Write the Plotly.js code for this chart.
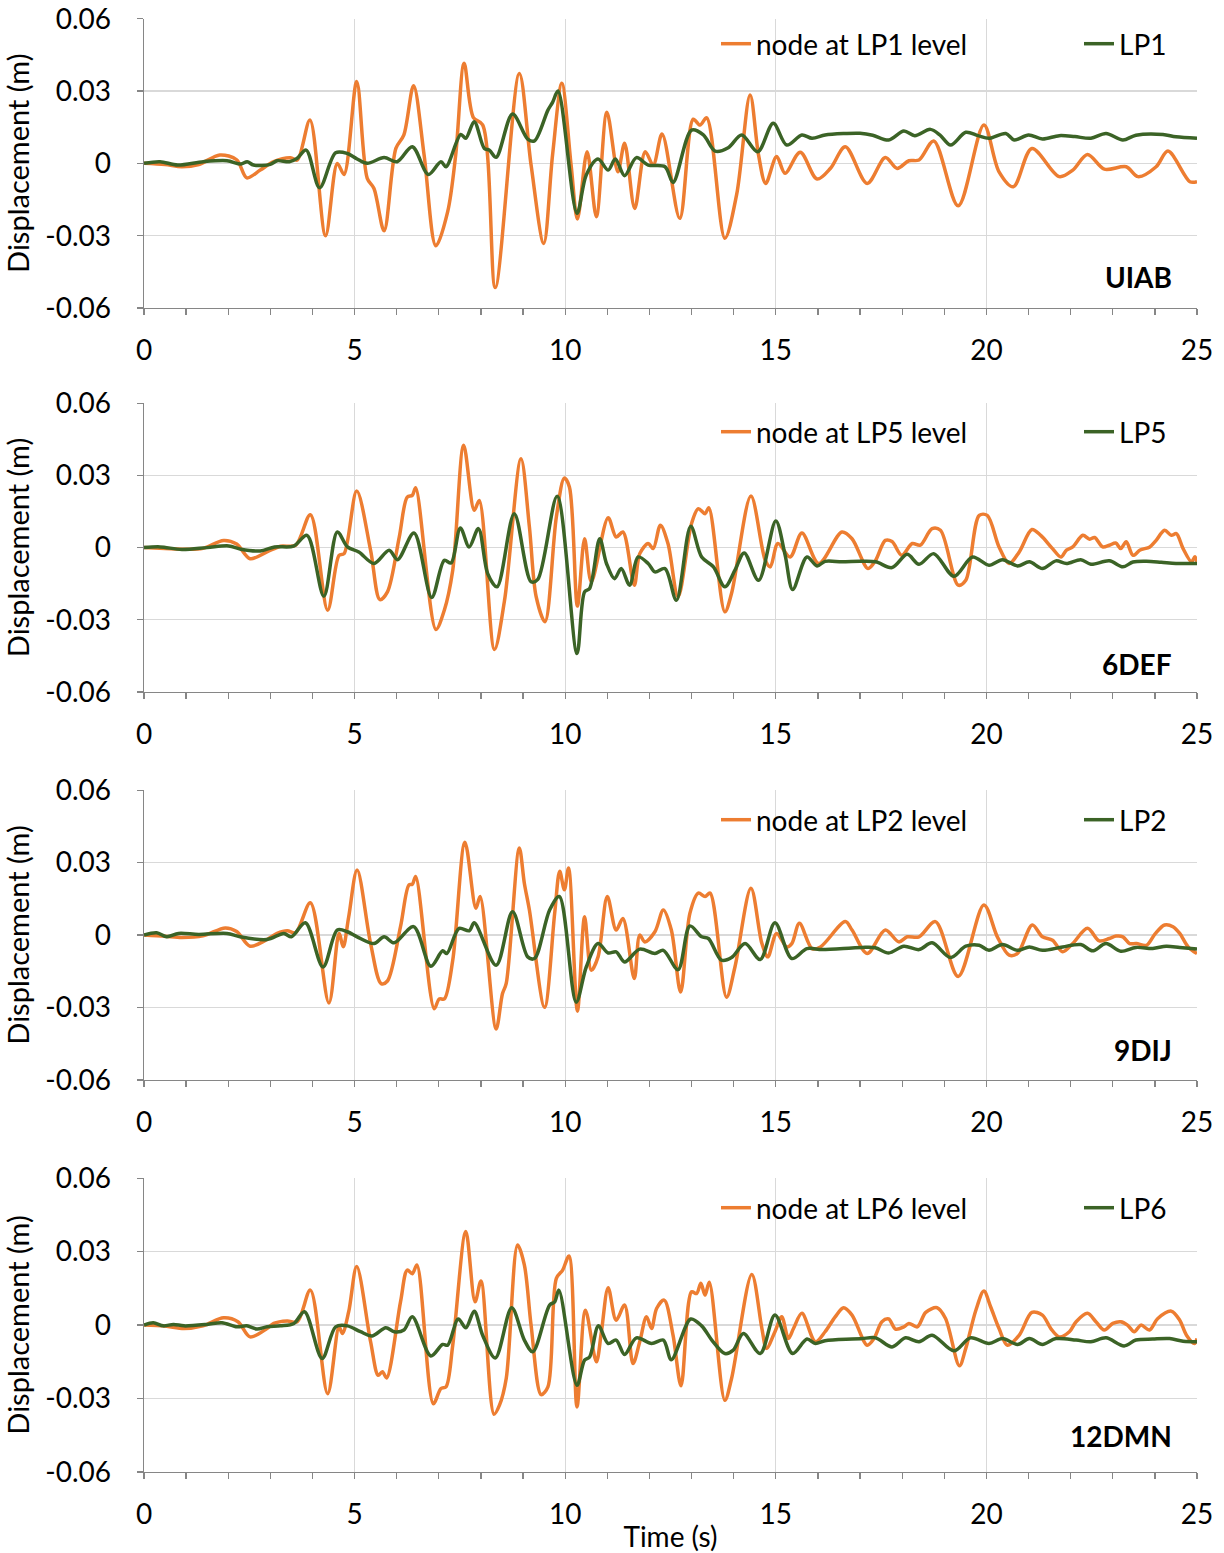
<!DOCTYPE html>
<html>
<head>
<meta charset="utf-8">
<script src="https://cdn.plot.ly/plotly-3.0.1.min.js"></script>
<style>
  html, body { margin: 0; padding: 0; background: #ffffff; }
  #chart { width: 1224px; height: 1553px; }
</style>
</head>
<body>
<div id="chart"></div>
<script>
// ---------------- Data (time in s, displacement in m) ----------------
const panelNames = ["UIAB", "6DEF", "9DIJ", "12DMN"];
const nodeNames = ["node at LP1 level", "node at LP5 level", "node at LP2 level", "node at LP6 level"];
const lpNames = ["LP1", "LP5", "LP2", "LP6"];
const yTickVals = [-0.06, -0.03, 0, 0.03, 0.06];
const yTickText = ["-0.06", "-0.03", "0", "0.03", "0.06"];

// Panel 1 : UIAB
const t_UIAB_node = [0,0.5,0.9,1.3,1.8,2.2,2.44,2.76,3.08,3.48,3.64,3.94,4.31,4.59,4.75,5.05,5.30,5.46,5.70,5.98,6.17,6.40,6.65,6.93,7.21,7.40,7.60,7.82,8.04,8.34,8.91,9.19,9.49,9.70,9.92,10.14,10.29,10.52,10.74,10.99,11.25,11.41,11.65,11.90,12.09,12.30,12.72,13.04,13.20,13.36,13.79,14.07,14.39,14.59,14.76,15.02,15.22,15.58,15.98,16.30,16.65,17.17,17.60,17.88,18.16,18.40,18.75,19.33,19.94,20.30,20.64,21.08,21.73,22.05,22.40,22.80,23.32,23.60,24.03,24.31,24.83,25.0];
const v_UIAB_node = [0,-0.0005,-0.0014,-0.0005,0.0035,0.0015,-0.006,-0.0028,0.0007,0.0023,0.0014,0.018,-0.030,0.0,-0.0046,0.034,-0.0062,-0.0104,-0.028,0.0062,0.0118,0.0322,0.0035,-0.0342,-0.020,0.0035,0.0415,0.019,0.016,-0.0515,0.0373,-0.0007,-0.0332,0.0035,0.0332,-0.0007,-0.0231,0.0048,-0.0221,0.0212,-0.0035,0.0083,-0.0187,0.0048,-0.0007,0.0122,-0.0228,0.0183,0.0159,0.0189,-0.0311,-0.013,0.0284,0.0035,-0.0083,0.0028,-0.0041,0.0046,-0.0065,-0.002,0.0069,-0.0083,0.0024,-0.0021,0.0011,0.0014,0.0093,-0.0176,0.0159,-0.0035,-0.0097,0.0062,-0.0055,-0.0028,0.0037,-0.0024,-0.0014,-0.0055,-0.0014,0.0051,-0.0076,-0.0076];
const t_UIAB_lp = [0,0.38,0.8,1.41,1.97,2.3,2.45,2.6,3.0,3.16,3.45,3.63,3.85,4.17,4.55,4.83,5.06,5.30,5.70,6.01,6.37,6.75,7.05,7.17,7.52,7.64,7.84,8.08,8.20,8.36,8.75,9.11,9.27,9.59,9.70,9.83,10.28,10.50,10.78,11.02,11.19,11.41,11.69,11.97,12.37,12.56,13.0,13.28,13.56,13.87,14.19,14.57,14.94,15.26,15.62,15.86,16.17,16.65,17.0,17.3,17.68,18.04,18.3,18.67,18.9,19.15,19.51,19.8,20.06,20.46,20.66,21.0,21.33,21.73,22.1,22.48,22.84,23.24,23.55,24.19,24.5,25.0];
const v_UIAB_lp = [0,0.0007,-0.0007,0.0007,0.0011,-0.0003,0.0007,-0.0007,-0.0004,0.0011,0.0007,0.002,0.0055,-0.0101,0.0044,0.0041,0.0018,0.0,0.0024,0.0007,0.0069,-0.0046,0.0007,-0.0014,0.012,0.0104,0.0173,0.0062,0.0055,0.0025,0.0205,0.0101,0.0093,0.0221,0.0253,0.030,-0.0207,-0.0048,0.0018,-0.0028,0.0018,-0.0051,0.0024,-0.0007,-0.0014,-0.0079,0.0138,0.0118,0.0051,0.0065,0.0118,0.0048,0.0166,0.0076,0.0118,0.0104,0.0118,0.0124,0.0125,0.0117,0.0097,0.0134,0.0115,0.0141,0.0117,0.0076,0.0129,0.0115,0.0104,0.0124,0.0097,0.0118,0.0101,0.0115,0.0111,0.0104,0.0124,0.0097,0.0117,0.012,0.011,0.0104];

// Panel 2 : 6DEF
const t_6DEF_node = [0,0.5,1.0,1.4,1.89,2.2,2.52,2.92,3.24,3.6,3.95,4.36,4.63,4.75,5.05,5.38,5.60,5.78,6.06,6.25,6.37,6.45,6.93,7.13,7.33,7.59,7.84,7.96,8.32,8.56,8.95,9.15,9.31,9.52,9.79,9.98,10.10,10.29,10.46,10.62,11.02,11.21,11.37,11.64,11.77,11.97,12.09,12.26,12.44,12.68,13.0,13.16,13.32,13.41,13.79,13.95,14.41,14.75,14.87,15.05,15.34,15.62,16.02,16.57,16.81,17.19,17.37,17.60,17.76,17.99,18.24,18.43,18.71,18.91,19.33,19.51,19.83,20.02,20.30,20.54,20.78,21.08,21.29,21.57,21.77,21.9,22.05,22.29,22.45,22.57,22.76,22.92,23.07,23.19,23.32,23.48,23.65,23.88,24.03,24.23,24.39,24.51,24.67,24.87,24.95,25.0];
const v_6DEF_node = [0,-0.0004,-0.0007,-0.0003,0.003,0.0015,-0.0046,-0.0018,0.0006,0.001,0.0137,-0.026,-0.0032,-0.0025,0.0235,-0.0011,-0.0216,-0.0184,0.0044,0.021,0.0217,0.0249,-0.034,-0.026,-0.0094,0.0425,0.0155,0.0196,-0.0423,-0.0219,0.0369,0.0086,-0.0204,-0.0308,0.0127,0.0289,0.0252,-0.0243,0.0037,-0.0142,0.0124,0.0044,0.0065,-0.0156,-0.0025,0.0017,-0.0004,0.0093,0.0017,-0.0205,0.010,0.0162,0.0141,0.0166,-0.0267,-0.019,0.0214,-0.0053,-0.008,0.0017,-0.0039,0.0061,-0.0066,0.0065,0.0037,-0.0087,-0.0053,0.003,0.0025,-0.0032,0.0017,0.001,0.0079,0.0072,-0.0156,-0.0136,0.0134,0.0134,0.0003,-0.0066,-0.0018,0.0075,0.0051,-0.0004,-0.0039,-0.001,0.0003,0.0051,0.0035,0.0042,0.0003,0.001,0.0019,-0.0004,0.0024,-0.0032,-0.001,0.0003,0.003,0.0072,0.0051,0.0058,-0.0004,-0.0059,-0.0038,-0.0059];
const t_6DEF_lp = [0,0.38,0.9,1.5,2.01,2.3,2.76,3.1,3.55,3.87,4.27,4.59,4.83,5.10,5.46,5.82,6.02,6.41,6.83,7.13,7.29,7.51,7.72,7.94,8.16,8.38,8.79,9.19,9.35,9.81,10.28,10.46,10.58,10.82,10.98,11.17,11.33,11.53,11.73,11.97,12.13,12.37,12.64,12.98,13.24,13.52,13.79,14.03,14.25,14.59,15.0,15.22,15.40,15.74,15.98,16.17,16.57,17.0,17.37,17.76,18.12,18.40,18.75,19.23,19.67,20.06,20.38,20.74,21.02,21.33,21.65,21.9,22.24,22.48,22.92,23.24,23.48,23.8,24.15,24.5,25.0];
const v_6DEF_lp = [0,0.0003,-0.0008,0.0,0.0007,-0.0007,-0.0014,0.0003,0.0006,0.0051,-0.0202,0.0065,0.0003,-0.0018,-0.0066,-0.0011,-0.005,0.0061,-0.0207,-0.0053,-0.0064,0.0082,0.0003,0.0079,-0.0108,-0.0163,0.0141,-0.0142,-0.0132,0.0213,-0.044,-0.0184,-0.017,0.0037,-0.0066,-0.0129,-0.0087,-0.0156,-0.0039,-0.0066,-0.0101,-0.0087,-0.0219,0.0089,-0.0039,-0.008,-0.0163,-0.0094,-0.0022,-0.0136,0.0111,-0.003,-0.0174,-0.0039,-0.0076,-0.0057,-0.0059,-0.0057,-0.0059,-0.0083,-0.0028,-0.0069,-0.0025,-0.0119,-0.0039,-0.0073,-0.005,-0.0076,-0.0059,-0.0087,-0.0055,-0.0066,-0.005,-0.0069,-0.0055,-0.008,-0.006,-0.0057,-0.0061,-0.0066,-0.0066];

// Panel 3 : 9DIJ
const t_9DIJ_node = [0,0.5,0.9,1.4,1.93,2.2,2.52,2.92,3.16,3.4,3.6,3.95,4.39,4.63,4.73,4.86,5.06,5.38,5.63,5.78,6.09,6.29,6.37,6.45,6.89,7.01,7.13,7.33,7.62,7.88,7.98,8.36,8.51,8.60,8.91,9.03,9.15,9.51,9.75,9.87,9.98,10.08,10.29,10.46,10.62,10.78,11.0,11.21,11.37,11.64,11.77,11.89,12.13,12.33,12.52,12.74,12.96,13.16,13.32,13.44,13.83,14.03,14.41,14.67,14.81,15.02,15.26,15.38,15.56,15.86,16.06,16.65,16.81,17.17,17.60,17.92,18.12,18.40,18.79,19.33,19.94,20.26,20.54,20.74,21.09,21.33,21.57,21.81,22.05,22.40,22.68,22.92,23.08,23.24,23.40,23.56,23.8,24.0,24.23,24.43,24.59,24.79,25.0];
const v_9DIJ_node = [0,-0.0005,-0.001,-0.0003,0.003,0.0015,-0.0046,-0.0018,0.0007,0.0018,0.001,0.0134,-0.0281,0.0007,-0.0048,0.0076,0.027,-0.0035,-0.0201,-0.019,0.0035,0.0208,0.021,0.0243,-0.0305,-0.0264,-0.0264,-0.0104,0.0385,0.0111,0.016,-0.0389,-0.0243,-0.020,0.0361,0.0215,0.0104,-0.0299,0.009,0.0264,0.0188,0.0278,-0.0315,0.0076,-0.0146,-0.009,0.016,0.0021,0.0069,-0.018,0.0,-0.0028,0.0014,0.0104,0.0021,-0.0236,0.009,0.0174,0.016,0.0174,-0.0257,-0.0132,0.0194,-0.0035,-0.009,0.0007,-0.0049,-0.0035,0.0049,-0.0056,-0.0049,0.0056,0.0021,-0.0076,0.0021,-0.0028,-0.0007,-0.0007,0.0056,-0.0171,0.0125,-0.0007,-0.0083,-0.0076,0.0042,-0.0007,-0.0021,-0.0069,-0.0035,0.0028,-0.0024,-0.0014,-0.0004,-0.0007,-0.0035,-0.0035,-0.0042,0.0004,0.0042,0.0035,0.0007,-0.0049,-0.0076];
const t_9DIJ_lp = [0,0.30,0.54,0.82,1.3,1.97,2.28,2.92,3.32,3.5,3.83,4.25,4.59,4.83,5.06,5.46,5.70,5.94,6.40,6.81,7.09,7.19,7.48,7.72,7.84,8.36,8.75,9.11,9.27,9.63,9.86,10.26,10.50,10.78,11.02,11.21,11.41,11.77,12.13,12.33,12.68,12.96,13.24,13.40,13.71,13.95,14.27,14.63,14.98,15.38,15.74,16.10,16.81,17.05,17.36,17.68,18.04,18.40,18.71,19.15,19.51,19.83,20.06,20.38,20.74,21.02,21.33,21.81,22.24,22.52,22.84,23.19,23.55,23.95,24.27,24.59,25.0];
const v_9DIJ_lp = [0,0.001,-0.0007,0.0007,0.0003,0.0007,-0.0007,-0.0018,0.0007,-0.0007,0.0051,-0.0132,0.0021,0.0014,-0.0007,-0.0035,-0.0007,-0.0032,0.0035,-0.0129,-0.0065,-0.0076,0.0028,0.0018,0.0051,-0.0125,0.0097,-0.009,-0.0097,0.0104,0.016,-0.0278,-0.0132,-0.0035,-0.0074,-0.0069,-0.0111,-0.0058,-0.0076,-0.0063,-0.0143,0.0038,-0.0007,-0.0014,-0.0104,-0.0093,-0.0035,-0.0101,0.0051,-0.0097,-0.0056,-0.006,-0.0053,-0.0051,-0.0052,-0.0074,-0.0046,-0.006,-0.0032,-0.0093,-0.0046,-0.0042,-0.0063,-0.0039,-0.0063,-0.0049,-0.0063,-0.0049,-0.0039,-0.0065,-0.0035,-0.0067,-0.0051,-0.0055,-0.0046,-0.0051,-0.0058];

// Panel 4 : 12DMN
const t_12DMN_node = [0,0.5,0.95,1.4,1.89,2.23,2.52,2.92,3.08,3.4,3.64,3.95,4.36,4.63,4.71,4.86,5.05,5.38,5.56,5.66,5.76,6.09,6.25,6.37,6.48,6.87,7.05,7.17,7.33,7.64,7.86,8.0,8.31,8.44,8.60,8.87,9.03,9.19,9.43,9.59,9.79,9.94,10.09,10.28,10.48,10.74,10.86,11.02,11.21,11.41,11.61,11.77,11.93,12.05,12.17,12.35,12.56,12.75,13.0,13.12,13.22,13.32,13.42,13.79,13.95,14.43,14.67,14.78,14.98,15.14,15.30,15.42,15.62,15.94,16.17,16.41,16.61,16.81,17.17,17.33,17.52,17.68,17.84,18.04,18.16,18.36,18.56,18.83,19.03,19.36,19.51,19.75,19.94,20.10,20.30,20.50,20.78,21.08,21.33,21.53,21.73,21.97,22.13,22.40,22.60,22.80,23.0,23.19,23.35,23.51,23.67,23.87,24.07,24.39,24.59,24.75,24.94,25.0];
const v_12DMN_node = [0,-0.0004,-0.0014,-0.0003,0.003,0.0014,-0.0048,-0.0014,0.0007,0.0017,0.0014,0.0143,-0.028,-0.0007,-0.0034,0.0055,0.0239,-0.0068,-0.0205,-0.019,-0.0216,0.0095,0.0225,0.021,0.0246,-0.0321,-0.0259,-0.0252,-0.0082,0.0382,0.0095,0.018,-0.0364,-0.0327,-0.0218,0.0327,0.0246,0.0,-0.0284,-0.0252,0.0191,0.0225,0.0282,-0.0334,0.0061,-0.015,-0.0027,0.0153,0.002,0.0082,-0.0157,-0.0068,0.0034,-0.0014,0.0068,0.0102,-0.0041,-0.0248,0.0136,0.0129,0.0171,0.0123,0.0175,-0.0307,-0.0218,0.0207,-0.0014,-0.0095,-0.0027,0.0034,-0.0055,-0.0014,0.0048,-0.0068,-0.0027,0.0034,0.0071,0.0041,-0.0082,-0.0055,0.0014,0.0025,-0.0016,-0.0007,0.0007,-0.0007,0.0052,0.0071,0.0027,-0.0166,-0.0095,0.0061,0.0139,0.0075,-0.0014,-0.0082,-0.0041,0.0052,0.0041,-0.0014,-0.0048,-0.0027,0.0014,0.0048,0.0014,-0.002,0.0007,0.0014,0.0,-0.0027,0.0,-0.002,0.0027,0.0057,0.002,-0.0041,-0.0075,-0.0055];
const t_12DMN_lp = [0,0.22,0.46,0.7,0.95,1.5,1.85,2.21,2.44,2.68,2.92,3.24,3.56,3.81,4.23,4.55,4.83,5.14,5.42,5.74,5.94,6.17,6.37,6.81,7.09,7.21,7.46,7.64,7.84,8.04,8.34,8.73,9.03,9.23,9.63,9.75,9.85,10.28,10.46,10.58,10.79,11.02,11.21,11.41,11.69,12.05,12.33,12.52,12.98,13.24,13.48,13.79,13.99,14.23,14.63,14.98,15.40,15.74,15.94,16.17,16.81,17.05,17.37,17.76,18.08,18.40,18.71,19.23,19.62,20.06,20.38,20.74,21.02,21.33,21.65,22.13,22.48,22.84,23.27,23.55,23.95,24.35,24.67,25.0];
const v_12DMN_lp = [0,0.001,-0.0003,0.0003,-0.0003,0.0003,0.001,-0.0007,-0.0003,-0.0016,-0.0007,-0.0003,0.0007,0.0055,-0.0136,-0.0007,-0.0003,-0.0027,-0.0044,-0.0011,-0.0027,-0.002,0.0034,-0.0126,-0.0079,-0.0082,0.0025,-0.0011,0.0057,-0.0041,-0.0134,0.0071,-0.0061,-0.0109,0.0082,0.0095,0.0143,-0.0246,-0.0143,-0.013,-0.0003,-0.0075,-0.0061,-0.012,-0.0052,-0.0075,-0.0061,-0.0141,0.0025,-0.0003,-0.0061,-0.0116,-0.0102,-0.0034,-0.0116,0.0041,-0.0116,-0.0057,-0.0075,-0.0064,-0.0057,-0.0055,-0.0052,-0.0089,-0.0052,-0.0068,-0.0041,-0.0105,-0.0052,-0.0075,-0.0055,-0.0079,-0.0055,-0.0079,-0.0055,-0.0061,-0.0068,-0.0052,-0.0085,-0.0061,-0.0057,-0.0055,-0.0066,-0.0068];

const nodeT = [t_UIAB_node, t_6DEF_node, t_9DIJ_node, t_12DMN_node];
const nodeV = [v_UIAB_node, v_6DEF_node, v_9DIJ_node, v_12DMN_node];
const lpT = [t_UIAB_lp, t_6DEF_lp, t_9DIJ_lp, t_12DMN_lp];
const lpV = [v_UIAB_lp, v_6DEF_lp, v_9DIJ_lp, v_12DMN_lp];

// ---------------- Styling / layout ----------------
const FONT = "Lato, 'Open Sans', sans-serif";
const ORANGE = "#ED7D31";
const GREEN = "#3B6326";
const AXIS = "#868686";
const GRID = "#D9D9D9";

// pixel geometry of the figure
const W = 1224, H = 1553;
const mL = 144, mR = 27, mT = 18, mB = 81;
const plotH = H - mT - mB;
const panelTops = [18.5, 403, 790, 1178];
const panelBots = [308, 692, 1080, 1472];
const legendY = [44, 432, 820, 1208];
const labelY = [277, 664, 1050, 1436];
const toPaperY = (py) => (H - mB - py) / plotH;
const toPaperX = (px) => (px - mL) / (W - mL - mR);

const traces = [];
const layout = {
  width: W, height: H,
  margin: {l: mL, r: mR, t: mT, b: mB, autoexpand: false},
  paper_bgcolor: "#ffffff",
  plot_bgcolor: "#ffffff",
  font: {family: FONT, size: 28, color: "#000000"},
  showlegend: true,
  annotations: []
};

for (let i = 0; i < 4; i++) {
  const n = i + 1;
  const xa = n === 1 ? "x" : "x" + n;
  const ya = n === 1 ? "y" : "y" + n;
  const lg = n === 1 ? "legend" : "legend" + n;
  traces.push({
    x: nodeT[i], y: nodeV[i], type: "scatter", mode: "lines",
    name: nodeNames[i], xaxis: xa, yaxis: ya, legend: lg, legendwidth: 318,
    line: {color: ORANGE, width: 3.5, shape: "spline", smoothing: 0.9}
  });
  traces.push({
    x: lpT[i], y: lpV[i], type: "scatter", mode: "lines",
    name: lpNames[i], xaxis: xa, yaxis: ya, legend: lg, legendwidth: 60,
    line: {color: GREEN, width: 3.5, shape: "spline", smoothing: 0.9}
  });

  const xKey = n === 1 ? "xaxis" : "xaxis" + n;
  const yKey = n === 1 ? "yaxis" : "yaxis" + n;
  layout[xKey] = {
    domain: [0, 1], anchor: ya, range: [0, 25],
    tick0: 0, dtick: 5, ticks: "outside", ticklen: 6, tickwidth: 1.3, tickcolor: AXIS,
    showline: true, linecolor: AXIS, linewidth: 1.3,
    showgrid: true, gridcolor: GRID, gridwidth: 1.3, zeroline: false,
    minor: {dtick: 1, ticks: "outside", ticklen: 6, tickwidth: 1.3, tickcolor: AXIS, showgrid: false},
    tickfont: {family: FONT, size: 28, color: "#000000"},
    ticklabelstandoff: 11, ticklabeloverflow: "allow",
    fixedrange: true
  };
  if (n === 4) {
    layout[xKey].title = {text: "Time (s)", font: {family: FONT, size: 28, color: "#000000"}, standoff: 0};
  }
  layout[yKey] = {
    domain: [toPaperY(panelBots[i]), toPaperY(panelTops[i])], anchor: xa,
    range: [-0.06, 0.0601], tickmode: "array", tickvals: yTickVals, ticktext: yTickText,
    ticks: "outside", ticklen: 6, tickwidth: 1.3, tickcolor: AXIS,
    showline: true, linecolor: AXIS, linewidth: 1.3,
    showgrid: true, gridcolor: GRID, gridwidth: 1.3, zeroline: false,
    tickfont: {family: FONT, size: 28, color: "#000000"},
    ticklabelstandoff: 20, ticklabeloverflow: "allow",
    title: {text: "Displacement (m)", font: {family: FONT, size: 29, color: "#000000"}, standoff: 10},
    fixedrange: true
  };
  layout[lg] = {
    orientation: "h", xref: "paper", yref: "paper",
    x: toPaperX(716), y: toPaperY(legendY[i]), xanchor: "left", yanchor: "middle",
    bgcolor: "rgba(0,0,0,0)", borderwidth: 0,
    font: {family: FONT, size: 28, color: "#000000"}
  };
  layout.annotations.push({
    text: "<b>" + panelNames[i] + "</b>", xref: "paper", yref: "paper",
    x: toPaperX(1174), y: toPaperY(labelY[i]), xanchor: "right", yanchor: "middle",
    showarrow: false, font: {family: FONT, size: 28, color: "#000000"}
  });
}

Plotly.newPlot("chart", traces, layout, {displayModeBar: false, staticPlot: true});
</script>
</body>
</html>
